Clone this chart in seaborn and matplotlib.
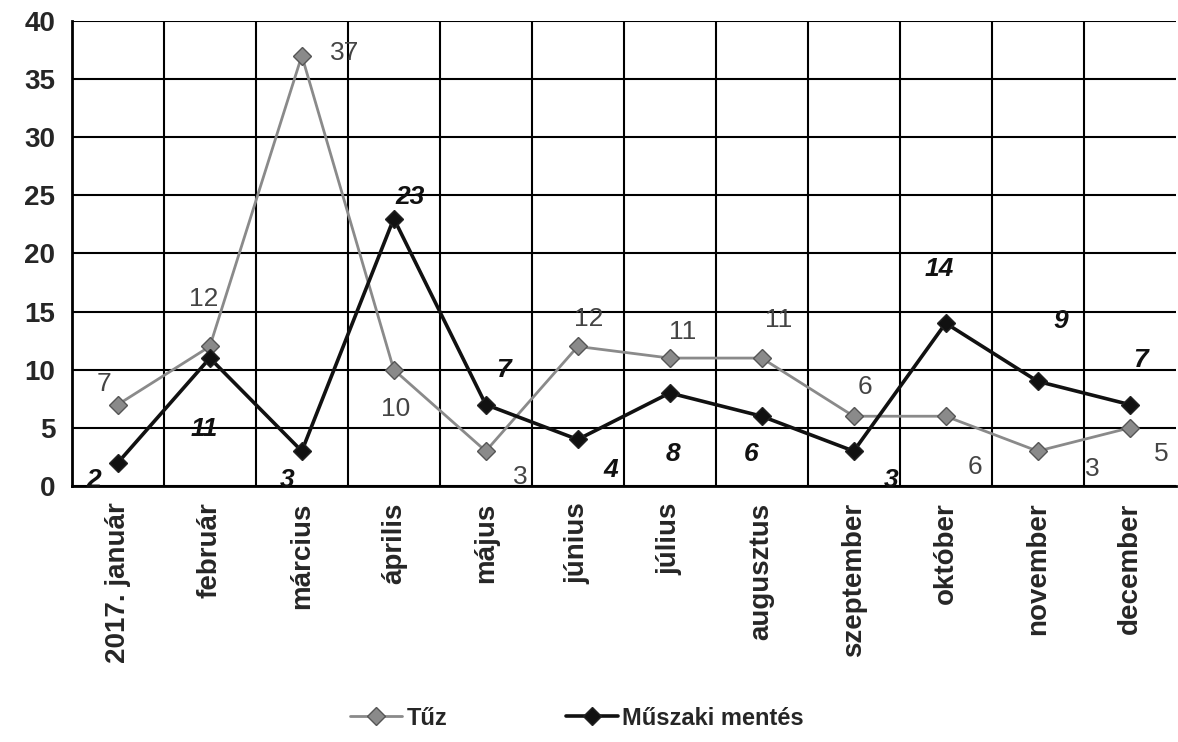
import numpy as np
import pandas as pd
import matplotlib.pyplot as plt
import seaborn as sns

# Adatok
honapok = ['2017. január', 'február', 'március', 'április', 'május', 'június',
           'július', 'augusztus', 'szeptember', 'október', 'november', 'december']
tuz = [7, 12, 37, 10, 3, 12, 11, 11, 6, 6, 3, 5]
muszaki = [2, 11, 3, 23, 7, 4, 8, 6, 3, 14, 9, 7]

# címkék eltolása pixelben (x, y felfelé)
tuz_off = [(-14, 21), (-6, 47), (43, 3), (2, -39), (35, -26), (11, 27),
           (13, 26), (17, 38), (11, 29), (29, -51), (55, -18), (32, -26)]
mus_off = [(-24, -17), (-6, -71), (-15, -29), (16, 22), (18, 35), (33, -31),
           (3, -61), (-11, -38), (37, -29), (-6, 54), (23, 60), (11, 45)]

sns.set_style('white')
plt.rcParams['font.family'] = ['Liberation Sans', 'DejaVu Sans']

df = pd.DataFrame({
    'x': list(range(12)) * 2,
    'ertek': tuz + muszaki,
    'sorozat': ['Tűz'] * 12 + ['Műszaki mentés'] * 12,
})

fig = plt.figure(figsize=(11.78, 7.42), dpi=100)
ax = fig.add_axes([0.061, 0.345, 0.937, 0.627])

szinek = {'Tűz': '#8a8a8a', 'Műszaki mentés': '#111111'}
for nev, lw in [('Tűz', 2.0), ('Műszaki mentés', 2.6)]:
    sub = df[df['sorozat'] == nev]
    sns.lineplot(data=sub, x='x', y='ertek', ax=ax, color=szinek[nev], lw=lw,
                 marker='D', markersize=9, markeredgecolor='#222222' if nev != 'Tűz' else '#555555',
                 markeredgewidth=1, label=nev, sort=False, legend=False)

# adatcímkék
for i, v in enumerate(tuz):
    ax.annotate(str(v), (i, v), xytext=tuz_off[i], textcoords='offset pixels',
                ha='center', va='center', fontsize=19, color='#444444')
for i, v in enumerate(muszaki):
    ax.annotate(str(v), (i, v), xytext=mus_off[i], textcoords='offset pixels',
                ha='center', va='center', fontsize=19, color='#111111',
                fontstyle='italic', fontweight='bold')

ax.set_xlim(-0.5, 11.5)
ax.set_ylim(0, 40)
ax.set_yticks(np.arange(0, 41, 5))
ax.set_yticklabels([str(t) for t in range(0, 41, 5)], fontsize=20, fontweight='bold')
ax.set_xticks(np.arange(0.5, 11.5, 1))
ax.set_xticklabels([])
ax.set_xticks(np.arange(12), minor=True)
ax.set_xticklabels(honapok, minor=True, rotation=90, fontsize=20, fontweight='bold')
ax.tick_params(axis='x', which='minor', length=0, pad=12)
ax.tick_params(axis='x', which='major', length=8, width=1.5, color='black', direction='out')
ax.tick_params(axis='y', length=8, width=1.5, color='black', direction='out', pad=4)
ax.grid(True, which='major', color='black', lw=1.5)
ax.set_xlabel('')
ax.set_ylabel('')
for s in ['left', 'bottom']:
    ax.spines[s].set_color('black')
    ax.spines[s].set_linewidth(2)
for s in ['top', 'right']:
    ax.spines[s].set_visible(False)
ax.set_axisbelow(True)

handles, labels = ax.get_legend_handles_labels()
fig.legend(handles, labels, loc='lower center', bbox_to_anchor=(0.49, -0.012), ncol=2,
           frameon=False, columnspacing=5, handlelength=2.2,
           handletextpad=0.2, prop={'weight': 'bold', 'size': 17})

fig.savefig('out.png', dpi=100)
